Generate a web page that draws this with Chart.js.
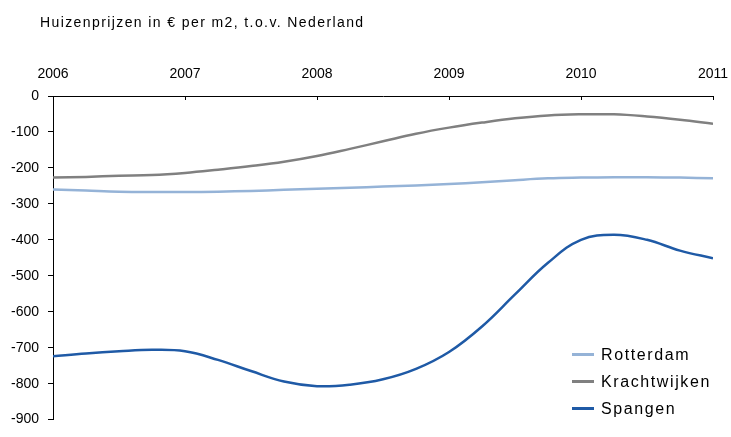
<!DOCTYPE html>
<html>
<head>
<meta charset="utf-8">
<script src="https://cdn.jsdelivr.net/npm/chart.js@4/dist/chart.umd.min.js"></script>
<style>
  html, body { margin: 0; padding: 0; background: #fff; }
  #wrap { position: relative; width: 731px; height: 437px; }
  #legend {
    position: absolute; left: 572px; top: 341px;
    font: 16px "Liberation Sans", Arial, sans-serif; letter-spacing: 1.6px; color: #000;
  }
  #legend .row { height: 27px; display: flex; align-items: center; }
  #legend .swatch { width: 22px; height: 3px; margin-right: 7px; }
</style>
</head>
<body>
<div id="wrap">
  <canvas id="c" width="731" height="437"></canvas>
  <div id="legend"></div>
</div>
<script>
// Quarterly points, 2006 Q1 through 2011 Q1 (price per m2 difference vs. the Netherlands)
const quarters = [2006, 2006.25, 2006.5, 2006.75, 2007, 2007.25, 2007.5, 2007.75, 2008, 2008.25, 2008.5,
                  2008.75, 2009, 2009.25, 2009.5, 2009.75, 2010, 2010.25, 2010.5, 2010.75, 2011];
const rotterdam    = [-260, -263, -266, -267, -267, -266, -264, -261, -258, -255, -252,
                      -249, -245, -240, -234, -229, -227, -226, -226, -227, -229];
const krachtwijken = [-227, -225, -222, -220, -214, -205, -195, -183, -167, -147, -126,
                      -105, -88, -74, -62, -54, -51, -51, -57, -66, -77];
const spangen      = [-724, -716, -710, -706, -710, -734, -765, -794, -807, -803, -788,
                      -759, -712, -641, -552, -464, -400, -386, -400, -430, -451];
const seriesNames  = ['Rotterdam', 'Krachtwijken', 'Spangen'];
const yearTicks    = [2006, 2007, 2008, 2009, 2010, 2011];
const titleText    = 'Huizenprijzen in € per m2, t.o.v. Nederland';

const colors = ['#95B3D7', '#808080', '#1F5AA6'];
const FONT = '"Liberation Sans", Arial, sans-serif';

function pts(values) {
  return quarters.map((q, i) => ({ x: q, y: values[i] }));
}

const seriesValues = [rotterdam, krachtwijken, spangen];
const datasets = seriesNames.map((name, i) => ({
  label: name,
  data: pts(seriesValues[i]),
  borderColor: colors[i],
  backgroundColor: colors[i],
  borderWidth: 2.5,
  pointRadius: 0,
  tension: 0.4,
  fill: false
}));

// Title text and short inward tick marks on the top (year) axis
const decorations = {
  id: 'decorations',
  afterDraw(chart) {
    const ctx = chart.ctx;
    const xs = chart.scales.x;
    const top = chart.chartArea.top;
    ctx.save();
    ctx.strokeStyle = '#000';
    ctx.lineWidth = 1;
    yearTicks.forEach(v => {
      const px = Math.round(xs.getPixelForValue(v)) + 0.5;
      ctx.beginPath();
      ctx.moveTo(px, top);
      ctx.lineTo(px, top + 4);
      ctx.stroke();
    });
    ctx.fillStyle = '#000';
    ctx.font = '14px ' + FONT;
    ctx.letterSpacing = '1.4px';
    ctx.textBaseline = 'middle';
    ctx.textAlign = 'left';
    ctx.fillText(titleText, 40, 23);
    ctx.restore();
  }
};

new Chart(document.getElementById('c'), {
  type: 'line',
  data: { datasets },
  options: {
    responsive: false,
    devicePixelRatio: 1,
    animation: false,
    layout: { padding: { left: 0, right: 18, top: 40, bottom: 5 } },
    plugins: {
      legend: { display: false },
      title: { display: false },
      tooltip: { enabled: false }
    },
    scales: {
      x: {
        type: 'linear',
        position: 'top',
        min: 2006,
        max: 2011,
        afterBuildTicks(scale) { scale.ticks = yearTicks.map(v => ({ value: v })); },
        afterFit(scale) {
          scale.height = 56;
          scale.paddingLeft = 0;
          scale.paddingRight = 0;
        },
        grid: { drawOnChartArea: false, drawTicks: false },
        border: { display: true, color: '#000', width: 1 },
        ticks: {
          color: '#000',
          font: { family: FONT, size: 14 },
          padding: 13,
          maxRotation: 0,
          autoSkip: false,
          callback: v => String(v)
        }
      },
      y: {
        min: -900,
        max: 0,
        afterFit(scale) { scale.width = 53; },
        grid: { drawOnChartArea: false, drawTicks: true, tickLength: 5, color: '#000' },
        border: { display: true, color: '#000', width: 1 },
        ticks: {
          stepSize: 100,
          color: '#000',
          font: { family: FONT, size: 14 },
          padding: 9
        }
      }
    }
  },
  plugins: [decorations]
});

// Legend rows
const legend = document.getElementById('legend');
seriesNames.forEach((name, i) => {
  const row = document.createElement('div');
  row.className = 'row';
  const sw = document.createElement('span');
  sw.className = 'swatch';
  sw.style.background = colors[i];
  const txt = document.createElement('span');
  txt.textContent = name;
  row.appendChild(sw);
  row.appendChild(txt);
  legend.appendChild(row);
});
</script>
</body>
</html>
